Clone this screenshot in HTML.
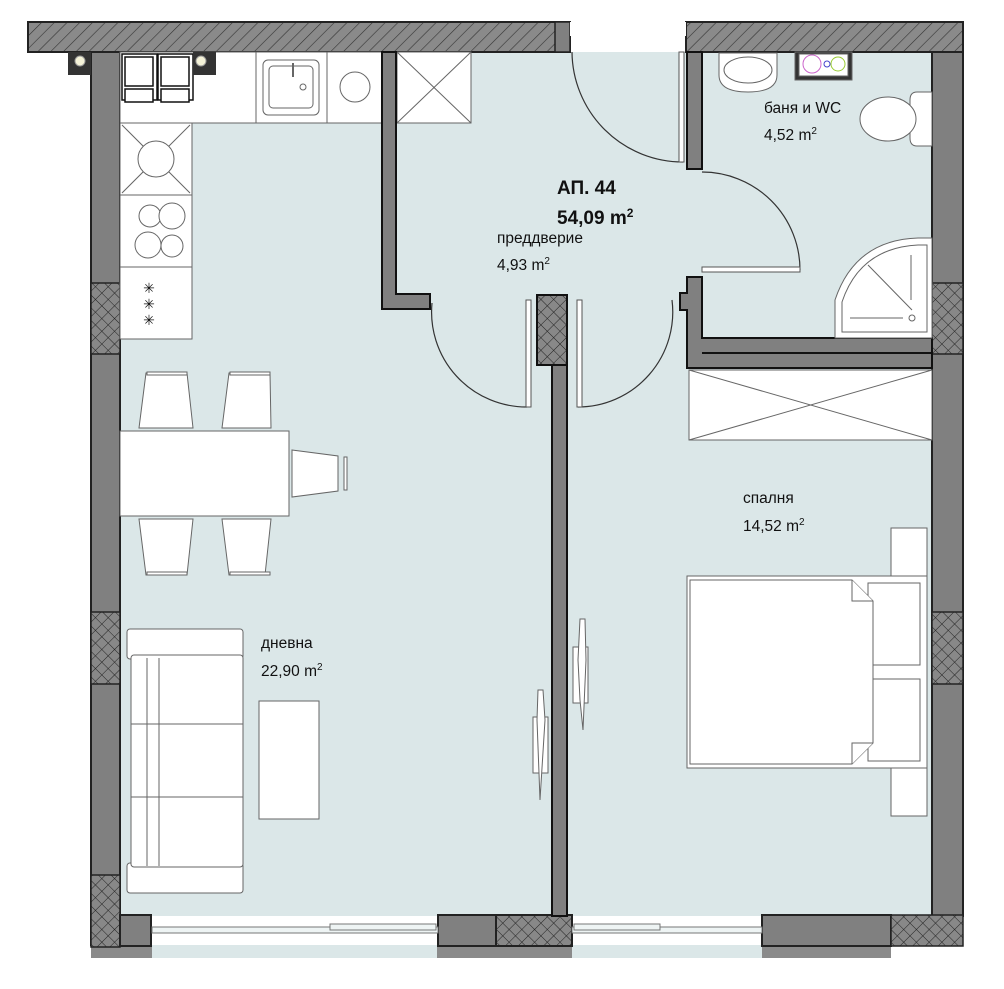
<!DOCTYPE html>
<html><head><meta charset="utf-8"><style>
html,body{margin:0;padding:0;background:#fff;}
svg{display:block;}
text{font-family:"Liberation Sans",sans-serif;fill:#111;}
</style></head><body>
<svg width="1004" height="989" viewBox="0 0 1004 989" xmlns="http://www.w3.org/2000/svg">
<defs>
<pattern id="diag" width="9" height="9" patternUnits="userSpaceOnUse" patternTransform="rotate(45)">
<rect width="9" height="9" fill="#8a8a8a"/><line x1="0" y1="0" x2="0" y2="9" stroke="#333" stroke-width="1.2"/>
</pattern>
<pattern id="cross" width="9" height="9" patternUnits="userSpaceOnUse" patternTransform="rotate(45)">
<rect width="9" height="9" fill="#888"/><line x1="0" y1="0" x2="0" y2="9" stroke="#222" stroke-width="1"/><line x1="0" y1="0" x2="9" y2="0" stroke="#222" stroke-width="1"/>
</pattern>
</defs>
<rect width="1004" height="989" fill="#fff"/>
<rect x="120" y="52" width="812" height="864" fill="#dbe7e8"/>
<rect x="91" y="945" width="800" height="13" fill="#8a8a8a"/>
<rect x="152" y="945" width="285" height="13" fill="#dbe7e8"/>
<rect x="572" y="945" width="190" height="13" fill="#dbe7e8"/>
<rect x="28" y="22" width="542" height="30" fill="url(#diag)" stroke="#222" stroke-width="2"/>
<rect x="555" y="22" width="15" height="30" fill="#808080" stroke="#222" stroke-width="1.5"/>
<rect x="686" y="22" width="277" height="30" fill="url(#diag)" stroke="#222" stroke-width="2"/>
<rect x="570" y="22" width="116" height="14" fill="#fff"/>
<rect x="91" y="52" width="29" height="893" fill="#808080" stroke="#222" stroke-width="2"/>
<rect x="91" y="283" width="29" height="71" fill="url(#cross)" stroke="#222" stroke-width="1.5"/>
<rect x="91" y="612" width="29" height="72" fill="url(#cross)" stroke="#222" stroke-width="1.5"/>
<rect x="91" y="875" width="29" height="72" fill="url(#cross)" stroke="#222" stroke-width="1.5"/>
<rect x="932" y="52" width="31" height="864" fill="#808080" stroke="#222" stroke-width="2"/>
<rect x="932" y="283" width="31" height="71" fill="url(#cross)" stroke="#222" stroke-width="1.5"/>
<rect x="932" y="612" width="31" height="72" fill="url(#cross)" stroke="#222" stroke-width="1.5"/>
<rect x="120" y="915" width="31" height="31" fill="#808080" stroke="#222" stroke-width="2"/>
<rect x="438" y="915" width="58" height="31" fill="#808080" stroke="#222" stroke-width="2"/>
<rect x="496" y="915" width="76" height="31" fill="url(#cross)" stroke="#222" stroke-width="2"/>
<rect x="762" y="915" width="129" height="31" fill="#808080" stroke="#222" stroke-width="2"/>
<rect x="891" y="915" width="72" height="31" fill="url(#cross)" stroke="#222" stroke-width="1.5"/>
<g fill="#eef4f4" stroke="#777" stroke-width="1">
<rect x="152" y="927" width="286" height="6"/><rect x="330" y="924" width="106" height="6"/>
<rect x="572" y="927" width="190" height="6"/><rect x="574" y="924" width="86" height="6"/>
</g>
<!-- kitchen -->
<g fill="#fff" stroke="#666" stroke-width="1">
<rect x="120" y="52" width="262" height="71"/>
<rect x="120" y="123" width="72" height="216"/>
<line x1="120" y1="195" x2="192" y2="195"/><line x1="120" y1="267" x2="192" y2="267"/>
<line x1="256" y1="52" x2="256" y2="123"/><line x1="327" y1="52" x2="327" y2="123"/>
<rect x="263" y="60" width="56" height="55" rx="5"/><rect x="269" y="66" width="44" height="42" rx="4"/>
<circle cx="303" cy="87" r="3"/>
<circle cx="355" cy="87" r="15"/>
<line x1="122" y1="125" x2="190" y2="193"/><line x1="190" y1="125" x2="122" y2="193"/>
<circle cx="156" cy="159" r="18"/>
<circle cx="150" cy="216" r="11"/><circle cx="172" cy="216" r="13"/><circle cx="148" cy="245" r="13"/><circle cx="172" cy="246" r="11"/>
</g>
<g fill="#fff" stroke="#111" stroke-width="1.5">
<rect x="122" y="54" width="35" height="46"/><rect x="158" y="54" width="35" height="46"/>
<rect x="125" y="57" width="28" height="29"/><rect x="161" y="57" width="28" height="29"/>
<rect x="125" y="89" width="28" height="13"/><rect x="161" y="89" width="28" height="13"/>
</g>
<rect x="292" y="63" width="2" height="14" fill="#666"/>
<!-- lights -->
<rect x="68" y="52" width="23" height="23" fill="#333"/><circle cx="80" cy="61" r="5" fill="#f4f2d8" stroke="#999"/>
<rect x="193" y="52" width="23" height="23" fill="#333"/><circle cx="201" cy="61" r="5" fill="#f4f2d8" stroke="#999"/>
<text x="149" y="293" font-size="14" text-anchor="middle">✳</text>
<text x="149" y="309" font-size="14" text-anchor="middle">✳</text>
<text x="149" y="325" font-size="14" text-anchor="middle">✳</text>
<rect x="397" y="52" width="74" height="71" fill="#fff" stroke="#666"/>
<line x1="397" y1="52" x2="471" y2="123" stroke="#666"/><line x1="471" y1="52" x2="397" y2="123" stroke="#666"/>
<path d="M382 52 V309 H430 V294 H396 V52 Z" fill="#808080" stroke="#111" stroke-width="2"/>
<rect x="537" y="295" width="30" height="70" fill="url(#cross)" stroke="#111" stroke-width="2"/>
<rect x="552" y="365" width="15" height="551" fill="#808080" stroke="#111" stroke-width="2"/>
<rect x="687" y="52" width="15" height="117" fill="#808080" stroke="#111" stroke-width="2"/>
<path d="M687 277 H702 V338 H932 V368 H687 V310 H680 V293 H687 Z" fill="#808080" stroke="#111" stroke-width="2"/>
<line x1="702" y1="353" x2="932" y2="353" stroke="#111" stroke-width="2"/>
<g fill="none" stroke="#333" stroke-width="1.2">
<path d="M572 52 A111 111 0 0 0 683 162"/>
<path d="M702 172 A98 98 0 0 1 800 270"/>
<path d="M432 303 A95 95 0 0 0 527 407"/>
<path d="M672 300 A95 95 0 0 1 578 407"/>
</g>
<g fill="#fff" stroke="#555" stroke-width="1">
<rect x="679" y="52" width="5" height="110"/>
<rect x="702" y="267" width="98" height="5"/>
<rect x="526" y="300" width="5" height="107"/>
<rect x="577" y="300" width="5" height="107"/>
</g>
<g fill="#fff" stroke="#666" stroke-width="1">
<path d="M719 53 H777 V75 Q777 92 748 92 Q719 92 719 75 Z"/>
<ellipse cx="748" cy="70" rx="24" ry="13"/>
<rect x="795" y="52" width="57" height="28" fill="#333"/><rect x="799" y="54" width="49" height="22"/>
<circle cx="812" cy="64" r="9" stroke="#c6c"/><circle cx="827" cy="64" r="3" stroke="#44c"/><circle cx="838" cy="64" r="7" stroke="#9c3"/>
<path d="M932 92 H917 Q910 92 910 100 V138 Q910 146 917 146 H932 Z"/>
<ellipse cx="888" cy="119" rx="28" ry="22"/>
<path d="M932 238 H918 Q855 240 835 300 V338 H932 Z"/>
<path d="M927 245 H918 Q860 248 842 302 V332 H927 Z"/>
<line x1="868" y1="265" x2="912" y2="310"/><line x1="850" y1="318" x2="903" y2="318"/><line x1="911" y1="255" x2="911" y2="300"/>
<circle cx="912" cy="318" r="3"/>
</g>
<rect x="689" y="370" width="243" height="70" fill="#fff" stroke="#666"/>
<line x1="689" y1="370" x2="932" y2="440" stroke="#666"/><line x1="932" y1="370" x2="689" y2="440" stroke="#666"/>
<g fill="#fff" stroke="#666" stroke-width="1">
<rect x="891" y="528" width="36" height="48"/><rect x="891" y="768" width="36" height="48"/>
<rect x="687" y="576" width="240" height="192"/>
<rect x="868" y="583" width="52" height="82"/><rect x="868" y="679" width="52" height="82"/>
<path d="M690 580 H852 L873 601 V743 L852 764 H690 Z"/>
<path d="M852 580 V601 H873"/><path d="M852 764 V743 H873"/>
</g>
<g fill="#fff" stroke="#666" stroke-width="1">
<rect x="120" y="431" width="169" height="85"/>
<path d="M146 373 H187 L193 428 H139 Z"/><path d="M229 373 H270 L271 428 H222 Z"/>
<path d="M139 519 H193 L187 575 H146 Z"/><path d="M222 519 H271 L265 575 H229 Z"/>
<path d="M292 450 L338 456 V491 L292 497 Z"/>
<rect x="147" y="372" width="40" height="3"/><rect x="230" y="372" width="40" height="3"/>
<rect x="147" y="572" width="40" height="3"/><rect x="230" y="572" width="40" height="3"/>
<rect x="344" y="457" width="3" height="33"/>
</g>
<g fill="#fff" stroke="#666" stroke-width="1">
<rect x="127" y="629" width="116" height="30" rx="3"/>
<rect x="127" y="863" width="116" height="30" rx="3"/>
<rect x="131" y="655" width="112" height="212" rx="3"/>
<line x1="147" y1="658" x2="147" y2="866"/><line x1="159" y1="658" x2="159" y2="866"/>
<line x1="131" y1="724" x2="243" y2="724"/><line x1="131" y1="797" x2="243" y2="797"/>
<rect x="259" y="701" width="60" height="118"/>
</g>
<g fill="#fff" stroke="#666" stroke-width="1">
<rect x="533" y="717" width="15" height="56"/><path d="M538 690 L543 690 L545 720 L540 800 L537 720 Z"/>
<rect x="573" y="647" width="15" height="56"/><path d="M580 619 L585 619 L586 660 L583 730 L580 700 L578 660 Z"/>
</g>
<text x="557" y="194" font-size="19" font-weight="bold">АП. 44</text>
<text x="557" y="224" font-size="19" font-weight="bold">54,09 m<tspan dy="-7" font-size="12">2</tspan></text>
<text x="497" y="243" font-size="15.5">преддверие</text>
<text x="497" y="270" font-size="15.5">4,93 m<tspan dy="-6" font-size="10">2</tspan></text>
<text x="764" y="113" font-size="15.5">баня и WC</text>
<text x="764" y="140" font-size="15.5">4,52 m<tspan dy="-6" font-size="10">2</tspan></text>
<text x="743" y="503" font-size="15.5">спалня</text>
<text x="743" y="531" font-size="15.5">14,52 m<tspan dy="-6" font-size="10">2</tspan></text>
<text x="261" y="648" font-size="15.5">дневна</text>
<text x="261" y="676" font-size="15.5">22,90 m<tspan dy="-6" font-size="10">2</tspan></text>
</svg>
</body></html>
